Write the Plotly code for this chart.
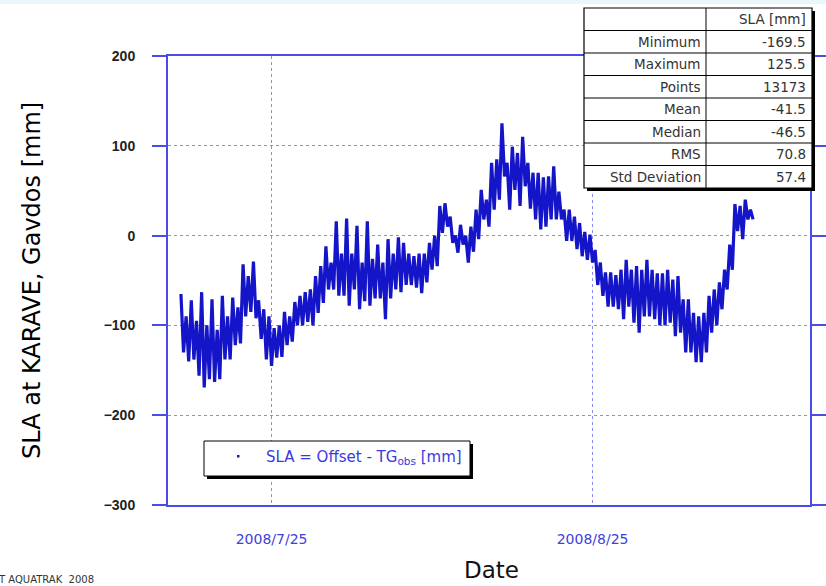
import pandas as pd
import plotly.graph_objects as go

# ---------------- data ----------------
start_time = "2008-07-16 06:00"          # first half-day sample
n_steps = 111                            # half-day samples
sla_high = [-65, -90, -72, -95, -63, -100, -71, -105, -67, -90,
            -69, -80, -32, -45, -29, -72, -82, -90, -103, -100,
            -85, -90, -74, -67, -63, -60, -45, -34, -12, -30,
            16, -20, 19, -20, 11, -30, 16, -26, -10, -30,
            -4, -20, -2, -8, -20, -23, -20, -20, -8, 0,
            33, 36, 21, 0, 12, 0, 10, 29, 51, 40,
            81, 85, 125, 81, 99, 92, 110, 81, 70, 70,
            65, 66, 77, 49, 29, 29, 21, 14, 4, 1,
            -16, -30, -41, -41, -44, -38, -27, -38, -34, -38,
            -27, -38, -42, -42, -38, -49, -45, -71, -71, -86,
            -90, -86, -67, -60, -52, -38, -10, 35, 33, 40, 29]
sla_low = [-130, -140, -138, -156, -169, -160, -163, -160, -138, -138,
           -122, -120, -90, -85, -92, -115, -138, -145, -136, -135,
           -122, -118, -100, -100, -96, -100, -86, -75, -60, -60,
           -67, -67, -78, -60, -82, -73, -78, -70, -70, -93,
           -70, -60, -63, -55, -55, -58, -64, -52, -38, -34,
           3, 10, -8, -19, -10, -30, -18, -4, 18, 10,
           29, 40, 66, 29, 51, 33, 55, 30, 18, 7,
           10, 18, 18, 18, -6, -6, -15, -23, -27, -30,
           -55, -67, -79, -79, -82, -93, -79, -97, -108, -90,
           -90, -93, -100, -100, -97, -112, -108, -130, -130, -141,
           -141, -130, -108, -100, -82, -60, -38, 5, -4, 18, 18]

x_range = ["2008-07-15", "2008-09-15"]
x_tickvals = ["2008-07-25", "2008-08-25"]
x_ticktext = ["2008/7/25", "2008/8/25"]
y_range = [-300, 200]

stat_header = "SLA [mm]"
stat_labels = ["Minimum", "Maximum", "Points", "Mean", "Median", "RMS", "Std Deviation"]
stat_values = ["-169.5", "125.5", "13173", "-41.5", "-46.5", "70.8", "57.4"]

legend_text = "SLA = Offset - TG<sub>obs</sub> [mm]"
y_title = "SLA at KARAVE, Gavdos [mm]"
x_title = "Date"
footer = "T AQUATRAK  2008"

# ---------------- build zig-zag series (high tide / low tide) ----------------
t_high = pd.date_range(start_time, periods=n_steps, freq="12h")
t_low = t_high + pd.Timedelta(hours=6)
xs, ys = [], []
for th, tl, h, l in zip(t_high, t_low, sla_high, sla_low):
    xs += [th, tl]
    ys += [h, l]

BLUE = "#1414c8"
AXIS = "#4b4be6"
GRID = "#8a8af2"

fig = go.Figure()
fig.add_trace(go.Scatter(x=xs, y=ys, mode="lines",
                         line=dict(color=BLUE, width=3.2),
                         showlegend=False, hoverinfo="skip"))

# ---------------- layout ----------------
W, H = 826, 586
L, R, T, B = 168, 810, 56, 505


def px(x):
    return (x - L) / (R - L)


def py(y):
    return (B - y) / (B - T)


shapes = []
annotations = []

# faint top band
shapes.append(dict(type="rect", xref="paper", yref="paper", x0=px(0), x1=px(W),
                   y0=py(4), y1=py(0), line=dict(width=0), fillcolor="#e9f6fa",
                   layer="below"))

# statistics table
tx0, tx1, tcol, ty0 = 584, 812, 706, 8
row_h = 22.5
ty1 = ty0 + row_h * (len(stat_labels) + 1)
shapes.append(dict(type="rect", xref="paper", yref="paper",
                   x0=px(tx0 + 3), x1=px(tx1 + 3), y0=py(ty1 + 3), y1=py(ty0 + 3),
                   line=dict(width=0), fillcolor="black", layer="above"))
shapes.append(dict(type="rect", xref="paper", yref="paper",
                   x0=px(tx0), x1=px(tx1), y0=py(ty1), y1=py(ty0),
                   line=dict(color="black", width=1.2), fillcolor="white", layer="above"))
for i in range(1, len(stat_labels) + 1):
    yy = ty0 + row_h * i
    shapes.append(dict(type="line", xref="paper", yref="paper",
                       x0=px(tx0), x1=px(tx1), y0=py(yy), y1=py(yy),
                       line=dict(color="black", width=1), layer="above"))
shapes.append(dict(type="line", xref="paper", yref="paper",
                   x0=px(tcol), x1=px(tcol), y0=py(ty1), y1=py(ty0),
                   line=dict(color="black", width=1), layer="above"))
tfont = dict(family="DejaVu Sans", size=13.5, color="#333333")
annotations.append(dict(xref="paper", yref="paper", x=px(tx1 - 4), y=py(ty0 + row_h / 2),
                        text=stat_header, showarrow=False, xanchor="right",
                        yanchor="middle", font=tfont))
for i, (lab, val) in enumerate(zip(stat_labels, stat_values)):
    yc = ty0 + row_h * (i + 1.5)
    annotations.append(dict(xref="paper", yref="paper", x=px(tcol - 3), y=py(yc),
                            text=lab, showarrow=False, xanchor="right",
                            yanchor="middle", font=tfont))
    annotations.append(dict(xref="paper", yref="paper", x=px(tx1 - 4), y=py(yc),
                            text=val, showarrow=False, xanchor="right",
                            yanchor="middle", font=tfont))

# legend box
lx0, lx1, ly0, ly1 = 204, 470, 441, 476
shapes.append(dict(type="rect", xref="paper", yref="paper",
                   x0=px(lx0 + 3), x1=px(lx1 + 3), y0=py(ly1 + 3), y1=py(ly0 + 3),
                   line=dict(width=0), fillcolor="black", layer="above"))
shapes.append(dict(type="rect", xref="paper", yref="paper",
                   x0=px(lx0), x1=px(lx1), y0=py(ly1), y1=py(ly0),
                   line=dict(color="black", width=1), fillcolor="white", layer="above"))
shapes.append(dict(type="rect", xref="paper", yref="paper",
                   x0=px(237), x1=px(239.5), y0=py(457.5), y1=py(455),
                   line=dict(width=0), fillcolor=BLUE, layer="above"))
annotations.append(dict(xref="paper", yref="paper", x=px(264), y=py(457),
                        text=legend_text, showarrow=False, xanchor="left",
                        yanchor="middle",
                        font=dict(family="DejaVu Sans", size=15, color="#3a3ae0")))

# titles
annotations.append(dict(xref="paper", yref="paper", x=px(32), y=py(281),
                        text=y_title, textangle=-90, showarrow=False,
                        xanchor="center", yanchor="middle",
                        font=dict(family="DejaVu Sans", size=24, color="black")))
annotations.append(dict(xref="paper", yref="paper", x=px(491), y=py(570),
                        text=x_title, showarrow=False, xanchor="center",
                        yanchor="middle",
                        font=dict(family="DejaVu Sans", size=23, color="#111111")))
annotations.append(dict(xref="paper", yref="paper", x=px(-4), y=py(579),
                        text=footer, showarrow=False, xanchor="left",
                        yanchor="middle",
                        font=dict(family="DejaVu Sans", size=10, color="#333333")))

fig.update_layout(
    width=W, height=H, autosize=False,
    margin=dict(l=L, r=W - R, t=T, b=H - B, pad=0, autoexpand=False),
    paper_bgcolor="white", plot_bgcolor="white",
    shapes=shapes, annotations=annotations,
    showlegend=False,
)
fig.update_xaxes(
    type="date", range=x_range, tickvals=x_tickvals, ticktext=x_ticktext,
    showgrid=True, gridcolor=GRID, griddash="dot", gridwidth=1,
    showline=True, linecolor=AXIS, linewidth=2, mirror=True,
    ticks="", ticklabelstandoff=20, automargin=False,
    tickfont=dict(family="DejaVu Sans", size=14, color="#4040dd"),
    zeroline=False,
)
fig.update_yaxes(
    range=y_range, dtick=100, tick0=0,
    showgrid=True, gridcolor=GRID, griddash="dot", gridwidth=1,
    showline=True, linecolor=AXIS, linewidth=2, mirror="allticks",
    ticks="outside", ticklen=14, tickwidth=2, tickcolor=AXIS,
    ticklabelstandoff=14, automargin=False,
    tickfont=dict(family="Liberation Sans", size=14, color="#222222", weight="bold"),
    zeroline=False,
)

fig.write_html("out.html",
               config={"displayModeBar": False, "responsive": False},
               post_script="document.body.style.margin='0';"
                           "document.body.style.overflow='hidden';")
